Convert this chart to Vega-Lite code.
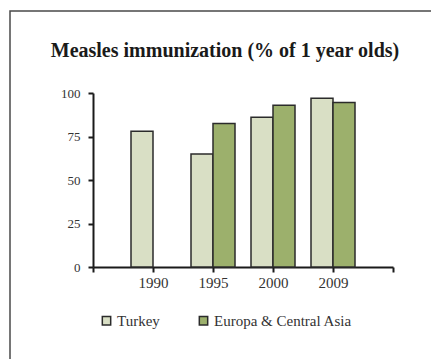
{
  "$schema": "https://vega.github.io/schema/vega-lite/v6.json",
  "width": 430,
  "height": 360,
  "autosize": {"type": "none"},
  "padding": {"left": 10, "top": 11, "right": 0, "bottom": 0},
  "background": "white",
  "title": {
    "text": "Measles immunization (% of 1 year olds)",
    "font": "Liberation Serif",
    "fontSize": 20,
    "fontWeight": "bold",
    "color": "#1a1a1a",
    "anchor": "middle",
    "frame": "group",
    "baseline": "alphabetic",
    "offset": -66
  },
  "data": {
    "values": [
      {"year": "1990", "region": "Turkey", "value": 78},
      {"year": "1995", "region": "Turkey", "value": 65},
      {"year": "1995", "region": "Europa & Central Asia", "value": 82.5},
      {"year": "2000", "region": "Turkey", "value": 86},
      {"year": "2000", "region": "Europa & Central Asia", "value": 93},
      {"year": "2009", "region": "Turkey", "value": 97},
      {"year": "2009", "region": "Europa & Central Asia", "value": 94.6}
    ]
  },
  "mark": {"type": "bar", "stroke": "#2b2b2b", "strokeWidth": 1.5},
  "encoding": {
    "x": {
      "field": "year",
      "type": "nominal",
      "sort": null,
      "scale": {
        "domain": ["1990", "1995", "2000", "2009", "end"],
        "range": [83, 383],
        "paddingInner": 0,
        "paddingOuter": 0
      },
      "axis": {
        "title": null,
        "orient": "bottom",
        "offset": -104,
        "tickBand": "extent",
        "labelOffset": 30,
        "labelAngle": 0,
        "labelExpr": "datum.value == 'end' ? '' : datum.label",
        "domainColor": "#1a1a1a",
        "domainWidth": 2,
        "tickColor": "#1a1a1a",
        "tickWidth": 2,
        "tickSize": 5,
        "labelPadding": 3,
        "labelFont": "Liberation Serif",
        "labelFontSize": 15,
        "labelColor": "#333333"
      }
    },
    "xOffset": {
      "field": "region",
      "type": "nominal",
      "scale": {
        "domain": ["Turkey", "Europa & Central Asia"],
        "range": [38, 82],
        "paddingInner": 0,
        "paddingOuter": 0
      }
    },
    "y": {
      "field": "value",
      "type": "quantitative",
      "scale": {"domain": [0, 100], "range": [256, 82], "nice": false},
      "axis": {
        "title": null,
        "orient": "left",
        "offset": -83,
        "values": [0, 25, 50, 75, 100],
        "grid": false,
        "domainColor": "#1a1a1a",
        "domainWidth": 2,
        "tickColor": "#1a1a1a",
        "tickWidth": 2,
        "tickSize": 5,
        "labelPadding": 8,
        "labelFont": "Liberation Serif",
        "labelFontSize": 13,
        "labelColor": "#333333"
      }
    },
    "fill": {
      "field": "region",
      "type": "nominal",
      "scale": {
        "domain": ["Turkey", "Europa & Central Asia"],
        "range": ["#d9dfc5", "#9cb06c"]
      },
      "legend": {
        "title": null,
        "orient": "none",
        "legendX": 89,
        "legendY": 302,
        "direction": "horizontal",
        "columns": 2,
        "columnPadding": 36,
        "symbolType": "square",
        "symbolSize": 70,
        "symbolStrokeColor": "#2b2b2b",
        "symbolStrokeWidth": 1.5,
        "symbolOpacity": 1,
        "labelOffset": 3,
        "labelFont": "Liberation Serif",
        "labelFontSize": 15,
        "labelColor": "#333333"
      }
    }
  },
  "config": {
    "view": {"stroke": "#4a4a4a", "strokeWidth": 1.5}
  }
}
